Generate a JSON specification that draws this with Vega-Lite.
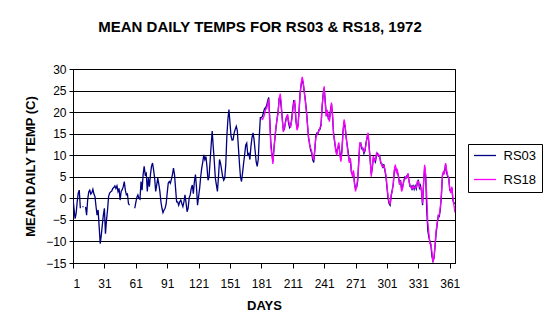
{
  "$schema": "https://vega.github.io/schema/vega-lite/v6.json",
  "width": 382,
  "height": 194,
  "autosize": {"type": "none"},
  "padding": {"left": 73, "top": 69, "right": 95, "bottom": 73},
  "background": "white",
  "title": {
    "text": "MEAN DAILY TEMPS FOR RS03 & RS18, 1972",
    "font": "Liberation Sans",
    "fontSize": 15,
    "fontWeight": "bold",
    "color": "black",
    "anchor": "middle",
    "frame": "group",
    "dx": -4,
    "offset": 28
  },
  "data": {
    "values": [
      {"day":1,"RS03":0.0},{"day":2,"RS03":-2.5},{"day":3,"RS03":-4.7},{"day":4,"RS03":-3.5},{"day":5,"RS03":-0.8},
      {"day":6,"RS03":1.2},{"day":7,"RS03":1.9},{"day":8,"RS03":-2.3},{"day":9,"RS03":null},{"day":10,"RS03":-1.9},
      {"day":11,"RS03":-2.0},{"day":12,"RS03":null},{"day":13,"RS03":-2.0},{"day":14,"RS03":-3.9},{"day":15,"RS03":-0.4},
      {"day":16,"RS03":1.5},{"day":17,"RS03":1.9},{"day":18,"RS03":1.0},{"day":19,"RS03":1.3},{"day":20,"RS03":2.1},
      {"day":21,"RS03":1.0},{"day":22,"RS03":0.4},{"day":23,"RS03":-1.9},{"day":24,"RS03":-3.9},{"day":25,"RS03":-2.7},
      {"day":26,"RS03":-6.6},{"day":27,"RS03":-10.5},{"day":28,"RS03":-8.6},{"day":29,"RS03":-6.2},{"day":30,"RS03":-3.9},
      {"day":31,"RS03":-2.3},{"day":32,"RS03":-8.2},{"day":33,"RS03":-5.1},{"day":34,"RS03":-2.7},{"day":35,"RS03":0.4},
      {"day":36,"RS03":1.2},{"day":37,"RS03":1.5},{"day":38,"RS03":1.7},{"day":39,"RS03":2.3},{"day":40,"RS03":2.5},
      {"day":41,"RS03":2.9},{"day":42,"RS03":2.3},{"day":43,"RS03":2.9},{"day":44,"RS03":1.6},{"day":45,"RS03":2.3},
      {"day":46,"RS03":-0.4},{"day":47,"RS03":1.6},{"day":48,"RS03":2.0},{"day":49,"RS03":2.7},{"day":50,"RS03":3.9},
      {"day":51,"RS03":1.9},{"day":52,"RS03":0.8},{"day":53,"RS03":1.0},{"day":54,"RS03":-1.2},{"day":55,"RS03":-1.6},
      {"day":56,"RS03":null},{"day":57,"RS03":null},{"day":58,"RS03":null},{"day":59,"RS03":null},{"day":60,"RS03":-2.3},
      {"day":61,"RS03":-1.0},{"day":62,"RS03":0.2},{"day":63,"RS03":0.8},{"day":64,"RS03":0.0},{"day":65,"RS03":-0.2},
      {"day":66,"RS03":3.9},{"day":67,"RS03":1.9},{"day":68,"RS03":5.5},{"day":69,"RS03":7.4},{"day":70,"RS03":5.5},
      {"day":71,"RS03":5.8},{"day":72,"RS03":1.6},{"day":73,"RS03":4.7},{"day":74,"RS03":2.7},{"day":75,"RS03":5.5},
      {"day":76,"RS03":7.4},{"day":77,"RS03":8.2},{"day":78,"RS03":6.6},{"day":79,"RS03":4.7},{"day":80,"RS03":1.6},
      {"day":81,"RS03":3.1},{"day":82,"RS03":4.7},{"day":83,"RS03":3.3},{"day":84,"RS03":1.6},{"day":85,"RS03":-0.8},
      {"day":86,"RS03":-2.3},{"day":87,"RS03":-3.3},{"day":88,"RS03":-2.7},{"day":89,"RS03":-2.3},{"day":90,"RS03":-1.3},
      {"day":91,"RS03":1.2},{"day":92,"RS03":3.5},{"day":93,"RS03":3.9},{"day":94,"RS03":3.5},{"day":95,"RS03":4.4},
      {"day":96,"RS03":5.5},{"day":97,"RS03":7.0},{"day":98,"RS03":5.5},{"day":99,"RS03":2.3},{"day":100,"RS03":-0.8},
      {"day":101,"RS03":-0.8},{"day":102,"RS03":-1.6},{"day":103,"RS03":-0.8},{"day":104,"RS03":-0.4},{"day":105,"RS03":-1.2},
      {"day":106,"RS03":-1.9},{"day":107,"RS03":-0.8},{"day":108,"RS03":0.8},{"day":109,"RS03":-1.0},{"day":110,"RS03":-3.1},
      {"day":111,"RS03":-2.3},{"day":112,"RS03":0.1},{"day":113,"RS03":0.8},{"day":114,"RS03":2.3},{"day":115,"RS03":3.1},
      {"day":116,"RS03":1.1},{"day":117,"RS03":3.9},{"day":118,"RS03":5.5},{"day":119,"RS03":2.5},{"day":120,"RS03":-1.6},
      {"day":121,"RS03":0.4},{"day":122,"RS03":2.3},{"day":123,"RS03":5.0},{"day":124,"RS03":7.0},{"day":125,"RS03":8.4},
      {"day":126,"RS03":10.1},{"day":127,"RS03":9.0},{"day":128,"RS03":9.7},{"day":129,"RS03":7.4},{"day":130,"RS03":4.2},
      {"day":131,"RS03":5.0},{"day":132,"RS03":8.6},{"day":133,"RS03":12.3},{"day":134,"RS03":15.6},{"day":135,"RS03":12.0},
      {"day":136,"RS03":8.6},{"day":137,"RS03":4.7},{"day":138,"RS03":3.1},{"day":139,"RS03":1.6},{"day":140,"RS03":5.0},
      {"day":141,"RS03":9.0},{"day":142,"RS03":8.1},{"day":143,"RS03":6.6},{"day":144,"RS03":5.0},{"day":145,"RS03":4.2},
      {"day":146,"RS03":4.7},{"day":147,"RS03":8.0},{"day":148,"RS03":14.4},{"day":149,"RS03":18.3},{"day":150,"RS03":20.6},
      {"day":151,"RS03":17.5},{"day":152,"RS03":14.4},{"day":153,"RS03":13.5},{"day":154,"RS03":13.6},{"day":155,"RS03":15.2},
      {"day":156,"RS03":16.0},{"day":157,"RS03":16.7},{"day":158,"RS03":15.7},{"day":159,"RS03":12.0},{"day":160,"RS03":8.2},
      {"day":161,"RS03":5.0},{"day":162,"RS03":3.9},{"day":163,"RS03":5.9},{"day":164,"RS03":8.1},{"day":165,"RS03":10.1},
      {"day":166,"RS03":12.3},{"day":167,"RS03":12.8},{"day":168,"RS03":10.1},{"day":169,"RS03":10.4},{"day":170,"RS03":9.0},
      {"day":171,"RS03":12.0},{"day":172,"RS03":14.0},{"day":173,"RS03":15.2},{"day":174,"RS03":13.6},{"day":175,"RS03":11.1},
      {"day":176,"RS03":8.5},{"day":177,"RS03":7.4},{"day":178,"RS03":9.0},{"day":179,"RS03":14.4},{"day":180,"RS03":18.7},
      {"day":181,"RS03":18.7,"RS18":18.5},{"day":182,"RS03":19.0,"RS18":18.3},{"day":183,"RS03":19.9,"RS18":18.7},
      {"day":184,"RS03":20.8,"RS18":19.5},{"day":185,"RS03":21.0,"RS18":20.6},{"day":186,"RS03":21.5,"RS18":20.8},
      {"day":187,"RS03":22.6,"RS18":21.8},{"day":188,"RS03":23.4,"RS18":23.0},{"day":189,"RS03":18.5,"RS18":17.5},
      {"day":190,"RS03":13.0,"RS18":12.0},{"day":191,"RS03":10.5,"RS18":10.0},{"day":192,"RS03":8.5,"RS18":8.0},
      {"day":193,"RS03":11.5,"RS18":11.5},{"day":194,"RS03":14.0,"RS18":14.4},{"day":195,"RS03":16.5,"RS18":16.7},
      {"day":196,"RS03":18.5,"RS18":18.3},{"day":197,"RS03":20.2,"RS18":19.8},{"day":198,"RS03":23.2,"RS18":23.0},
      {"day":199,"RS03":23.6,"RS18":24.3},{"day":200,"RS03":21.0,"RS18":22.0},{"day":201,"RS03":18.5,"RS18":18.0},
      {"day":202,"RS03":15.8,"RS18":15.4},{"day":203,"RS03":16.0,"RS18":16.4},{"day":204,"RS03":17.8,"RS18":17.5},
      {"day":205,"RS03":18.9,"RS18":18.6},{"day":206,"RS03":19.2,"RS18":19.5},{"day":207,"RS03":17.4,"RS18":18.0},
      {"day":208,"RS03":16.4,"RS18":16.9},{"day":209,"RS03":16.9,"RS18":16.6},{"day":210,"RS03":18.5,"RS18":18.0},
      {"day":211,"RS03":20.9,"RS18":20.2},{"day":212,"RS03":22.8,"RS18":22.2},{"day":213,"RS03":21.8,"RS18":22.5},
      {"day":214,"RS03":18.0,"RS18":18.5},{"day":215,"RS03":16.2,"RS18":15.8},{"day":216,"RS03":16.9,"RS18":16.5},
      {"day":217,"RS03":20.5,"RS18":20.0},{"day":218,"RS03":24.5,"RS18":24.0},{"day":219,"RS03":26.3,"RS18":26.6},
      {"day":220,"RS03":27.6,"RS18":28.2},{"day":221,"RS03":26.5,"RS18":27.0},{"day":222,"RS03":24.8,"RS18":24.5},
      {"day":223,"RS03":22.8,"RS18":22.5},{"day":224,"RS03":20.5,"RS18":20.0},{"day":225,"RS03":17.4,"RS18":17.0},
      {"day":226,"RS03":14.0,"RS18":14.5},{"day":227,"RS03":12.8,"RS18":12.5},{"day":228,"RS03":11.2,"RS18":11.7},
      {"day":229,"RS03":10.6,"RS18":11.0},{"day":230,"RS03":9.0,"RS18":9.5},{"day":231,"RS03":8.3,"RS18":8.9},
      {"day":232,"RS03":11.0,"RS18":11.5},{"day":233,"RS03":14.4,"RS18":14.0},{"day":234,"RS03":15.1,"RS18":14.7},
      {"day":235,"RS03":15.0,"RS18":15.2},{"day":236,"RS03":15.9,"RS18":15.6},{"day":237,"RS03":16.0,"RS18":16.4},
      {"day":238,"RS03":17.2,"RS18":16.7},{"day":239,"RS03":21.0,"RS18":21.4},{"day":240,"RS03":24.1,"RS18":23.7},
      {"day":241,"RS03":25.6,"RS18":26.0},{"day":242,"RS03":22.5,"RS18":22.0},{"day":243,"RS03":19.5,"RS18":19.0},
      {"day":244,"RS03":20.0,"RS18":20.5},{"day":245,"RS03":18.4,"RS18":19.0},{"day":246,"RS03":18.3,"RS18":17.8},
      {"day":247,"RS03":20.4,"RS18":20.0},{"day":248,"RS03":21.8,"RS18":22.2},{"day":249,"RS03":19.0,"RS18":19.5},
      {"day":250,"RS03":15.0,"RS18":14.6},{"day":251,"RS03":13.0,"RS18":13.5},{"day":252,"RS03":11.5,"RS18":11.0},
      {"day":253,"RS03":10.4,"RS18":10.0},{"day":254,"RS03":11.6,"RS18":12.0},{"day":255,"RS03":12.4,"RS18":13.0},
      {"day":256,"RS03":10.6,"RS18":10.0},{"day":257,"RS03":9.0,"RS18":8.5},{"day":258,"RS03":11.3,"RS18":10.8},
      {"day":259,"RS03":15.6,"RS18":15.2},{"day":260,"RS03":17.8,"RS18":18.3},{"day":261,"RS03":16.5,"RS18":17.0},
      {"day":262,"RS03":14.0,"RS18":14.5},{"day":263,"RS03":12.4,"RS18":12.0},{"day":264,"RS03":10.6,"RS18":10.0},
      {"day":265,"RS03":8.8,"RS18":8.2},{"day":266,"RS03":9.0,"RS18":9.3},{"day":267,"RS03":6.0,"RS18":6.5},
      {"day":268,"RS03":5.6,"RS18":5.0},{"day":269,"RS03":6.0,"RS18":6.5},{"day":270,"RS03":3.6,"RS18":3.1},
      {"day":271,"RS03":2.2,"RS18":1.6},{"day":272,"RS03":2.5,"RS18":2.8},{"day":273,"RS03":4.0,"RS18":4.5},
      {"day":274,"RS03":8.6,"RS18":8.0},{"day":275,"RS03":12.5,"RS18":13.0},{"day":276,"RS03":12.8,"RS18":12.5},
      {"day":277,"RS03":11.5,"RS18":11.9},{"day":278,"RS03":11.6,"RS18":11.2},{"day":279,"RS03":10.4,"RS18":10.8},
      {"day":280,"RS03":11.0,"RS18":11.3},{"day":281,"RS03":12.9,"RS18":12.5},{"day":282,"RS03":14.0,"RS18":14.4},
      {"day":283,"RS03":14.8,"RS18":15.2},{"day":284,"RS03":12.0,"RS18":11.5},{"day":285,"RS03":8.6,"RS18":9.0},
      {"day":286,"RS03":5.6,"RS18":5.0},{"day":287,"RS03":7.0,"RS18":7.5},{"day":288,"RS03":9.4,"RS18":9.8},
      {"day":289,"RS03":9.1,"RS18":8.6},{"day":290,"RS03":8.5,"RS18":9.0},{"day":291,"RS03":10.1,"RS18":10.5},
      {"day":292,"RS03":10.4,"RS18":10.0},{"day":293,"RS03":9.8,"RS18":10.2},{"day":294,"RS03":9.9,"RS18":9.5},
      {"day":295,"RS03":8.2,"RS18":8.6},{"day":296,"RS03":8.1,"RS18":7.7},{"day":297,"RS03":7.0,"RS18":7.3},
      {"day":298,"RS03":7.9,"RS18":7.6},{"day":299,"RS03":6.5,"RS18":6.8},{"day":300,"RS03":5.0,"RS18":5.5},
      {"day":301,"RS03":2.5,"RS18":3.0},{"day":302,"RS03":0.0,"RS18":0.5},{"day":303,"RS03":-1.2,"RS18":-0.8},
      {"day":304,"RS03":-1.6,"RS18":-1.4},{"day":305,"RS03":0.5,"RS18":0.8},{"day":306,"RS03":1.9,"RS18":1.5},
      {"day":307,"RS03":3.2,"RS18":3.5},{"day":308,"RS03":6.2,"RS18":6.5},{"day":309,"RS03":7.4,"RS18":7.8},
      {"day":310,"RS03":6.3,"RS18":6.0},{"day":311,"RS03":6.0,"RS18":6.5},{"day":312,"RS03":5.2,"RS18":4.8},
      {"day":313,"RS03":3.2,"RS18":3.5},{"day":314,"RS03":4.2,"RS18":3.9},{"day":315,"RS03":2.0,"RS18":1.6},
      {"day":316,"RS03":2.8,"RS18":2.3},{"day":317,"RS03":3.9,"RS18":4.2},{"day":318,"RS03":4.9,"RS18":4.4},
      {"day":319,"RS03":4.6,"RS18":5.0},{"day":320,"RS03":5.2,"RS18":4.8},{"day":321,"RS03":5.5,"RS18":5.8},
      {"day":322,"RS03":4.2,"RS18":3.9},{"day":323,"RS03":2.8,"RS18":3.1},{"day":324,"RS03":2.9,"RS18":2.5},
      {"day":325,"RS03":1.9,"RS18":2.2},{"day":326,"RS03":3.1,"RS18":2.8},{"day":327,"RS03":2.1,"RS18":2.4},
      {"day":328,"RS03":2.9,"RS18":2.6},{"day":329,"RS03":2.2,"RS18":2.5},{"day":330,"RS03":3.5,"RS18":3.9},
      {"day":331,"RS03":4.3,"RS18":3.9},{"day":332,"RS03":2.4,"RS18":2.7},{"day":333,"RS03":3.0,"RS18":2.6},
      {"day":334,"RS03":1.6,"RS18":2.0},{"day":335,"RS03":-1.6,"RS18":-1.2},{"day":336,"RS03":3.5,"RS18":3.9},
      {"day":337,"RS03":7.2,"RS18":7.8},{"day":338,"RS03":5.0,"RS18":5.5},{"day":339,"RS03":-2.7,"RS18":0.5},
      {"day":340,"RS03":-7.4,"RS18":-5.5},{"day":341,"RS03":-9.0,"RS18":-8.0},{"day":342,"RS03":-10.0,"RS18":-10.5},
      {"day":343,"RS03":-11.0,"RS18":-10.5},{"day":344,"RS03":-13.5,"RS18":-12.5},{"day":345,"RS03":-14.6,"RS18":-14.8},
      {"day":346,"RS03":-13.8,"RS18":-13.5},{"day":347,"RS03":-11.0,"RS18":-10.5},{"day":348,"RS03":-8.0,"RS18":-7.4},
      {"day":349,"RS03":-6.0,"RS18":-5.5},{"day":350,"RS03":-4.0,"RS18":-4.5},{"day":351,"RS03":-4.2,"RS18":-3.7},
      {"day":352,"RS03":-2.5,"RS18":-2.0},{"day":353,"RS03":0.6,"RS18":1.0},{"day":354,"RS03":5.2,"RS18":5.5},
      {"day":355,"RS03":6.0,"RS18":6.2},{"day":356,"RS03":6.2,"RS18":5.8},{"day":357,"RS03":7.9,"RS18":8.2},
      {"day":358,"RS03":6.0,"RS18":6.5},{"day":359,"RS03":5.0,"RS18":5.4},{"day":360,"RS03":4.8,"RS18":4.5},
      {"day":361,"RS03":1.9,"RS18":2.3},{"day":362,"RS03":1.6,"RS18":1.2},{"day":363,"RS03":2.4,"RS18":2.7},
      {"day":364,"RS03":-0.4,"RS18":0.0},{"day":365,"RS03":-1.2,"RS18":-1.6},{"day":366,"RS03":-1.0,"RS18":-3.3}
    ]
  },
  "transform": [
    {"fold": ["RS03", "RS18"], "as": ["station", "temp"]},
    {"filter": "datum.station == 'RS03' || isValid(datum.temp)"}
  ],
  "mark": {"type": "line", "strokeWidth": 1.3, "invalid": "break-paths-show-domains", "clip": true},
  "encoding": {
    "x": {
      "field": "day",
      "type": "quantitative",
      "scale": {"domain": [1, 366], "nice": false, "zero": false},
      "axis": {
        "title": "DAYS",
        "values": [1, 31, 61, 91, 121, 151, 181, 211, 241, 271, 301, 331, 361],
        "grid": false,
        "tickSize": 5,
        "labelPadding": 10,
        "titlePadding": 10
      }
    },
    "y": {
      "field": "temp",
      "type": "quantitative",
      "scale": {"domain": [-15, 30], "nice": false, "zero": false},
      "axis": {
        "title": "MEAN DAILY TEMP (C)",
        "values": [-15, -10, -5, 0, 5, 10, 15, 20, 25, 30],
        "grid": true,
        "tickSize": 4,
        "labelPadding": 3,
        "titlePadding": 8
      }
    },
    "color": {
      "field": "station",
      "type": "nominal",
      "scale": {"domain": ["RS03", "RS18"], "range": ["#000080", "#FF00FF"]},
      "legend": {
        "title": null,
        "orient": "none",
        "legendX": 395,
        "legendY": 75,
        "strokeColor": "black",
        "fillColor": "white",
        "padding": 5,
        "symbolType": "M-2,0L2,0",
        "symbolSize": 121,
        "symbolOffset": 5.5,
        "symbolStrokeWidth": 1.3,
        "labelFontSize": 13,
        "labelFont": "Liberation Sans",
        "labelColor": "black",
        "rowPadding": 10,
        "labelOffset": 12
      }
    }
  },
  "config": {
    "font": "Liberation Sans",
    "view": {"stroke": "black", "strokeWidth": 1},
    "axis": {
      "domainColor": "black",
      "tickColor": "black",
      "gridColor": "black",
      "gridOpacity": 1,
      "gridWidth": 1,
      "labelColor": "black",
      "labelFont": "Liberation Sans",
      "labelFontSize": 12,
      "titleFont": "Liberation Sans",
      "titleFontSize": 13,
      "titleFontWeight": "bold",
      "titleColor": "black"
    }
  }
}
